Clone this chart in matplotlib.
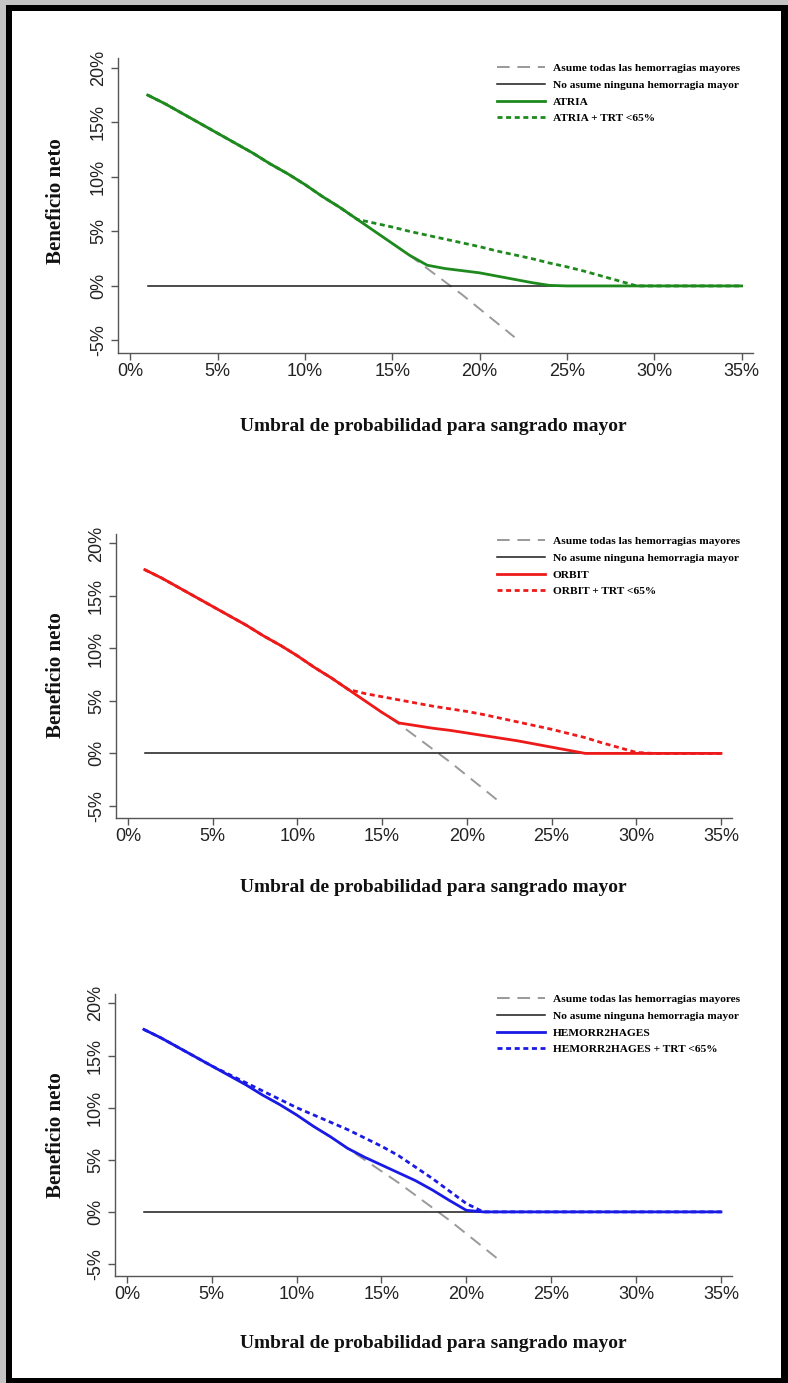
import numpy as np
import matplotlib
matplotlib.use("Agg")
import matplotlib.pyplot as plt
from matplotlib.patches import Rectangle

W, H = 788, 1383

# umbral (%) y beneficio neto (%)
umbral = list(range(1, 36))
umbral_todas = list(range(1, 23))
todas = [17.5, 16.7, 15.8, 14.9, 14.0, 13.1, 12.2, 11.2, 10.3, 9.3, 8.2,
         7.2, 6.1, 5.0, 3.9, 2.8, 1.6, 0.4, -0.8, -2.1, -3.4, -4.7]
ninguna_x = [1, 35]
ninguna_y = [0, 0]

atria = [17.5, 16.7, 15.8, 14.9, 14.0, 13.1, 12.2, 11.2, 10.3, 9.3, 8.2, 7.2,
         6.1, 5.0, 3.9, 2.8, 1.9, 1.6, 1.4, 1.2, 0.9, 0.6, 0.3, 0.05,
         0, 0, 0, 0, 0, 0, 0, 0, 0, 0, 0]
atria_trt = [17.5, 16.7, 15.8, 14.9, 14.0, 13.1, 12.2, 11.2, 10.3, 9.3, 8.2, 7.2,
             6.1, 5.75, 5.4, 5.0, 4.65, 4.3, 3.95, 3.6, 3.2, 2.85, 2.5, 2.1,
             1.75, 1.35, 0.9, 0.45, 0, 0, 0, 0, 0, 0, 0]
orbit = [17.5, 16.7, 15.8, 14.9, 14.0, 13.1, 12.2, 11.2, 10.3, 9.3, 8.2, 7.2,
         6.1, 5.0, 3.9, 2.9, 2.65, 2.4, 2.2, 1.95, 1.7, 1.45, 1.2, 0.9,
         0.6, 0.3, 0, 0, 0, 0, 0, 0, 0, 0, 0]
orbit_trt = [17.5, 16.7, 15.8, 14.9, 14.0, 13.1, 12.2, 11.2, 10.3, 9.3, 8.2, 7.2,
             6.1, 5.7, 5.4, 5.1, 4.8, 4.5, 4.25, 4.0, 3.7, 3.35, 3.0, 2.65,
             2.3, 1.9, 1.5, 1.0, 0.55, 0.1, 0, 0, 0, 0, 0]
hemo = [17.5, 16.7, 15.8, 14.9, 14.0, 13.1, 12.2, 11.2, 10.3, 9.3, 8.2, 7.2,
        6.1, 5.25, 4.5, 3.75, 3.0, 2.1, 1.1, 0.15, 0,
        0, 0, 0, 0, 0, 0, 0, 0, 0, 0, 0, 0, 0, 0]
hemo_trt = [17.5, 16.7, 15.8, 14.9, 14.0, 13.2, 12.4, 11.6, 10.8, 10.0, 9.3, 8.6,
            7.9, 7.1, 6.3, 5.4, 4.3, 3.2, 2.0, 0.8, 0,
            0, 0, 0, 0, 0, 0, 0, 0, 0, 0, 0, 0, 0, 0]

modelos = ["ATRIA", "ORBIT", "HEMORR2HAGES"]
colores = ["#1e8a1e", "#ee1a1a", "#1a1ae6"]
series = [(atria, atria_trt), (orbit, orbit_trt), (hemo, hemo_trt)]
yticks = [-5, 0, 5, 10, 15, 20]
xticks = [0, 5, 10, 15, 20, 25, 30, 35]

# panel boxes in pixels: left, top, right, bottom
cajas = [(118, 58, 753, 353), (116, 534, 732, 818), (115, 994, 732, 1276)]
ylab_y = [201, 675, 1135]
xlab_y = [426, 888, 1343]
leg_top = [63, 536, 994]

SERIF = "Liberation Serif"
SANS = "Liberation Sans"

fig = plt.figure(figsize=(W / 100, H / 100), dpi=100)
fig.patch.set_facecolor("#c4c4c4")
fig.add_artist(Rectangle((6 / W, 0), 1 - 6 / W, 1 - 5 / H, transform=fig.transFigure,
                         facecolor="black", edgecolor="none", zorder=-3))
fig.add_artist(Rectangle((12 / W, 5 / H), (781 - 12) / W, (1378 - 11) / H,
                         transform=fig.transFigure, facecolor="white",
                         edgecolor="none", zorder=-2))

for i in range(3):
    l, t, r, b = cajas[i]
    ax = fig.add_axes([l / W, 1 - b / H, (r - l) / W, (b - t) / H])
    ax.set_facecolor("none")
    sol, trt = series[i]
    c = colores[i]
    ax.plot(umbral_todas, todas, color="#999999", lw=1.4, dashes=(6.5, 4),
            label="Asume todas las hemorragias mayores")
    ax.plot(ninguna_x, ninguna_y, color="#1a1a1a", lw=1.1,
            label="No asume ninguna hemorragia mayor")
    ax.plot(umbral, sol, color=c, lw=2.0, label=modelos[i])
    ax.plot(umbral, trt, color=c, lw=2.0, dashes=(1.8, 1.3),
            label=modelos[i] + " + TRT <65%")
    ax.set_xlim(-0.7, 35.65)
    ax.set_ylim(-6.15, 20.9)
    for s in ["top", "right"]:
        ax.spines[s].set_visible(False)
    for s in ["left", "bottom"]:
        ax.spines[s].set_color("#555555")
        ax.spines[s].set_linewidth(1.0)
    ax.set_xticks(xticks)
    ax.set_xticklabels([f"{v}%" for v in xticks], fontname=SANS, fontsize=13)
    ax.set_yticks(yticks)
    ax.set_yticklabels([f"{v}%" for v in yticks], fontname=SANS, fontsize=13,
                       rotation=90, va="center")
    ax.tick_params(axis="both", colors="#555555", length=5, width=1.0,
                   labelcolor="#222222")
    ax.tick_params(axis="x", pad=2)
    ax.tick_params(axis="y", pad=3)
    leg = ax.legend(loc="upper left", bbox_to_anchor=(497 / W, 1 - leg_top[i] / H),
                    bbox_transform=fig.transFigure, frameon=False, borderpad=0,
                    borderaxespad=0, handlelength=4.2, handletextpad=0.7,
                    labelspacing=0.6,
                    prop={"family": SERIF, "weight": "bold", "size": 8.2})
    fig.text(56 / W, 1 - ylab_y[i] / H, "Beneficio neto", rotation=90,
             ha="center", va="center", fontname=SERIF, fontweight="bold",
             fontsize=15, color="#111111")
    fig.text(433 / W, 1 - xlab_y[i] / H, "Umbral de probabilidad para sangrado mayor",
             ha="center", va="center", fontname=SERIF, fontweight="bold",
             fontsize=14, color="#111111")

fig.savefig("out.png", dpi=100, facecolor=fig.get_facecolor())
